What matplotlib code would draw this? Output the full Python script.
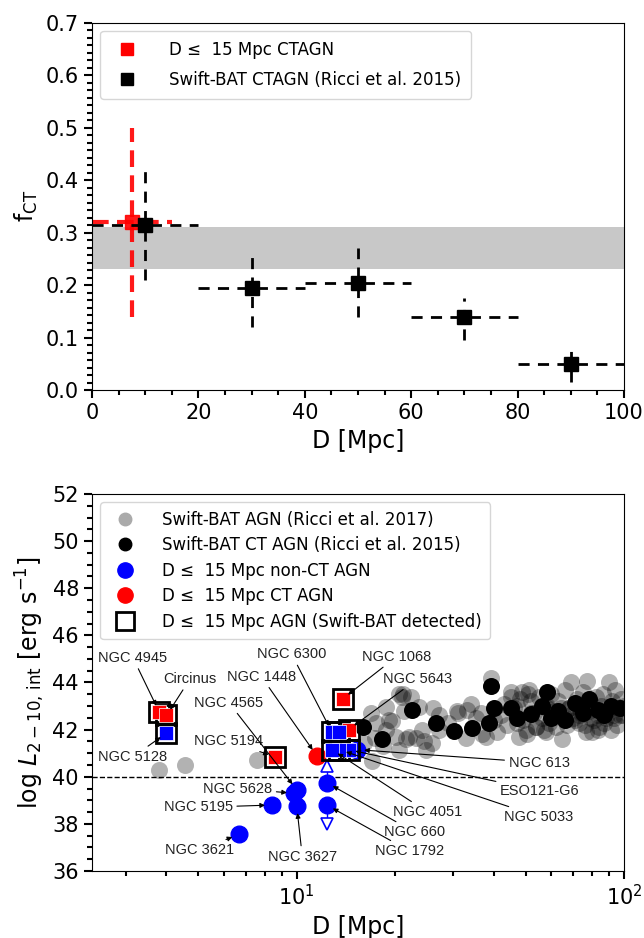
import numpy as np
import matplotlib
matplotlib.use("Agg")
import matplotlib.pyplot as plt
from matplotlib.lines import Line2D
from matplotlib.ticker import MultipleLocator, AutoMinorLocator

# ---------------- top panel data ----------------
local_d = [7.5]
local_f = [0.32]
local_xerr = [7.5]
local_ylo = [0.18]
local_yhi = [0.18]

bat_d = [10, 30, 50, 70, 90]
bat_f = [0.315, 0.195, 0.205, 0.14, 0.05]
bat_xerr = [10, 10, 10, 10, 10]
bat_ylo = [0.105, 0.075, 0.065, 0.045, 0.035]
bat_yhi = [0.105, 0.065, 0.065, 0.035, 0.035]

band_lo, band_hi = 0.23, 0.31

# ---------------- bottom panel data ----------------
# Swift-BAT AGN (Ricci et al. 2017)
r17_d = [3.8, 4.55, 7.55, 16.1, 17.3, 18.8, 21.6, 27.3, 33.0, 36.9, 41.0, 54.0, 64.5,
         76.5, 83.5, 17.0, 16.9, 19.2, 20.1, 18.8, 20.6, 21.1, 22.4, 19.6, 17.5, 18.3,
         20.6, 23.2, 24.2, 24.9, 27.3, 31.0, 33.2, 35.4, 21.3, 39.3, 20.9, 23.7, 22.1,
         24.5, 25.9, 30.8, 36.6, 38.0, 48.9, 51.3, 47.8, 50.6, 69.0, 90.0, 53.9, 57.8,
         80.0, 91.0, 73.0, 45.3, 42, 43, 44, 45, 46, 47, 48, 49, 50, 51, 52, 53, 55,
         56, 57, 58, 59, 60, 61, 62, 63, 64, 65, 66, 67, 68, 70, 71, 72, 73, 74, 75,
         76, 77, 78, 79, 81, 82, 83, 84, 85, 86, 87, 88, 89, 92, 93, 94, 95, 96, 97,
         98, 99, 100, 29.0, 26.0, 34.0, 40.0, 62, 68, 74, 79, 85, 93, 58, 52, 47]
r17_l = [40.3, 40.5, 40.7, 41.45, 41.65, 42.0, 41.6, 42.0, 41.65, 41.8, 41.9, 42.1, 41.6,
         41.9, 42.0, 40.65, 42.7, 42.4, 41.7, 42.95, 43.5, 43.5, 43.4, 42.35, 42.3, 41.3,
         41.15, 41.65, 42.0, 41.15, 42.6, 42.7, 42.85, 42.5, 42.8, 44.2, 43.4, 42.98, 41.7,
         41.5, 41.45, 42.8, 42.7, 41.7, 43.6, 43.7, 41.7, 41.8, 44.0, 44.0, 42.1, 41.9,
         41.9, 42.0, 42.3, 43.6, 42.6, 43.1, 42.2, 43.4, 42.9, 42.3, 43.3, 42.4, 42.0,
         43.5, 43.2, 42.7, 43.4, 42.5, 42.0, 43.0, 42.3, 43.5, 42.8, 42.1, 43.2, 42.9,
         42.6, 43.7, 42.2, 42.9, 42.5, 42.4, 43.3, 42.6, 42.7, 43.6, 42.2, 44.05, 42.8,
         43.1, 42.4, 43.4, 42.6, 42.1, 43.0, 43.5, 42.3, 42.5, 42.8, 43.2, 42.5, 43.7,
         42.2, 42.9, 42.6, 43.3, 42.6, 43.0, 42.3, 42.9, 43.1, 42.4, 42.7, 42.9, 43.0,
         42.5, 42.8, 42.6, 42.9, 42.7, 43.0]

# Swift-BAT CT AGN (Ricci et al. 2015)
r15_d = [15.9, 18.2, 22.5, 26.7, 30.3, 34.2, 39.3, 40.2, 38.8, 47.2, 52.0, 58.0, 56.0,
         63.0, 71.0, 75.0, 83.5, 91.5, 66.0, 87.0, 97.0, 60.0, 45.0, 78.0]
r15_l = [42.1, 41.6, 42.85, 42.3, 41.95, 42.05, 43.85, 42.9, 42.3, 42.5, 42.65, 43.6, 43.0,
         42.8, 43.15, 42.7, 42.85, 43.0, 42.4, 42.6, 42.9, 42.5, 42.9, 43.3]

# D <= 15 Mpc AGN
names = ["NGC 4945", "Circinus", "NGC 5128", "NGC 5194", "NGC 4565", "NGC 5628",
         "NGC 5195", "NGC 3621", "NGC 3627", "NGC 1448", "NGC 6300", "NGC 1068",
         "NGC 5643", "NGC 613", "ESO121-G6", "NGC 5033", "NGC 4051", "NGC 660",
         "NGC 1792"]
dist = [3.8, 4.0, 4.0, 8.6, 10.0, 9.8, 8.4, 6.65, 10.0, 11.5, 12.8, 13.8,
        14.4, 15.3, 14.4, 13.5, 12.8, 12.35, 12.35]
logl = [42.75, 42.6, 41.85, 40.85, 39.45, 39.3, 38.8, 37.55, 38.75, 40.9, 41.9, 43.3,
        42.0, 41.15, 41.15, 41.15, 41.15, 39.75, 38.8]
is_ct = [True, True, False, True, False, False, False, False, False, True, False, True,
         True, False, False, False, False, False, False]
bat_detected = [True, True, True, True, False, False, False, False, False, False, True, True,
                True, False, True, True, True, False, False]
# extra Swift-BAT detected non-CT square in the 13 Mpc cluster
extra_d = [13.5]
extra_l = [41.9]
lolim = {"NGC 660": 0.72}
uplim = {"NGC 1792": -0.8}

plt.rcParams['font.family'] = ['DejaVu Sans']
fig = plt.figure(figsize=(6.44, 9.38), dpi=100)

# ======================= top panel =======================
ax1 = fig.add_axes([0.143, 0.584, 0.826, 0.392])
ax1.axhspan(band_lo, band_hi, color='#c8c8c8', lw=0, zorder=0)
eb = ax1.errorbar(bat_d, bat_f, xerr=bat_xerr, yerr=[bat_ylo, bat_yhi], fmt='s',
                  color='k', ms=10, elinewidth=2, capsize=0, zorder=3)
eb[-1][0].set_linestyle((0, (4, 3)))
eb[-1][1].set_linestyle((0, (4, 3)))
eb2 = ax1.errorbar(local_d, local_f, xerr=local_xerr, yerr=[local_ylo, local_yhi], fmt='s',
                   color='red', ms=10, elinewidth=3, capsize=0, zorder=2, alpha=0.9)
eb2[-1][0].set_linestyle((0, (4, 2)))
eb2[-1][1].set_linestyle((0, (4, 2)))
ax1.set_xlim(0, 100)
ax1.set_ylim(0, 0.7)
ax1.xaxis.set_major_locator(MultipleLocator(20))
ax1.xaxis.set_minor_locator(MultipleLocator(5))
ax1.yaxis.set_major_locator(MultipleLocator(0.1))
ax1.yaxis.set_minor_locator(AutoMinorLocator(7))
ax1.tick_params(which='major', labelsize=15, length=6, width=1.5)
ax1.tick_params(which='minor', length=3.5, width=1.5)
ax1.set_xlabel('D [Mpc]', fontsize=17)
ax1.set_ylabel(r'f$_{\rm CT}$', fontsize=17)
h1 = [Line2D([], [], marker='s', ls='none', color='red', ms=8),
      Line2D([], [], marker='s', ls='none', color='k', ms=8)]
ax1.legend(h1, ['D ≤  15 Mpc CTAGN', 'Swift-BAT CTAGN (Ricci et al. 2015)'],
           loc='upper left', fontsize=12, handletextpad=1.5, borderpad=0.6,
           labelspacing=0.7)

# ======================= bottom panel =======================
ax2 = fig.add_axes([0.143, 0.0714, 0.826, 0.402])
ax2.set_xscale('log')
ax2.scatter(r17_d, r17_l, s=150, color='k', alpha=0.3, lw=0, zorder=1)
ax2.scatter(r15_d, r15_l, s=150, color='k', lw=0, zorder=2)
ax2.axhline(40, color='k', ls='--', lw=1, zorder=1.5)

for n, d, l, ct, det in zip(names, dist, logl, is_ct, bat_detected):
    c = 'red' if ct else 'blue'
    if det:
        ax2.plot(d, l, marker='s', ms=14, mfc='none', mec='k', mew=2, zorder=5)
        ax2.plot(d, l, marker='s', ms=10, color=c, mec='white', mew=0.5, zorder=6)
    else:
        ax2.plot(d, l, marker='o', ms=12, color=c, zorder=4)
for d, l in zip(extra_d, extra_l):
    ax2.plot(d, l, marker='s', ms=14, mfc='none', mec='k', mew=2, zorder=5)
    ax2.plot(d, l, marker='s', ms=10, color='blue', mec='white', mew=0.5, zorder=6)

for n, off in list(lolim.items()) + list(uplim.items()):
    i = names.index(n)
    ax2.plot([dist[i], dist[i]], [logl[i], logl[i] + off], color='blue', lw=1, zorder=3)
    ax2.plot(dist[i], logl[i] + off, marker='^' if off > 0 else 'v', ms=9,
             mfc='white', mec='blue', mew=1.2, zorder=3)

# annotation label positions (layout)
text_pos = {"NGC 4945": (3.16, 45.05), "Circinus": (4.72, 44.15), "NGC 5128": (3.16, 40.85),
            "NGC 5194": (6.2, 41.5), "NGC 4565": (6.2, 43.15), "NGC 5628": (6.6, 39.5),
            "NGC 5195": (5.0, 38.7), "NGC 3621": (5.06, 36.9), "NGC 3627": (10.4, 36.6),
            "NGC 1448": (7.8, 44.25), "NGC 6300": (9.65, 45.2), "NGC 1068": (20.2, 45.1),
            "NGC 5643": (23.4, 44.15), "NGC 613": (55, 40.6), "ESO121-G6": (55.3, 39.4),
            "NGC 5033": (55, 38.3), "NGC 4051": (25.1, 38.5), "NGC 660": (22.9, 37.65),
            "NGC 1792": (22.1, 36.85)}
for n, d, l in zip(names, dist, logl):
    ax2.annotate(n, xy=(d, l), xytext=text_pos[n], fontsize=10.5,
                 family=['Liberation Sans', 'DejaVu Sans'], ha='center', va='center',
                 color='#222222', zorder=7,
                 arrowprops=dict(arrowstyle='-|>', color='k', lw=0.8,
                                 mutation_scale=7, shrinkA=1, shrinkB=5))

ax2.set_xlim(2.37, 100)
ax2.set_ylim(36, 52)
ax2.yaxis.set_major_locator(MultipleLocator(2))
ax2.yaxis.set_minor_locator(MultipleLocator(0.5))
ax2.tick_params(which='major', labelsize=15, length=6, width=1.5)
ax2.tick_params(which='minor', length=3.5, width=1.5)
ax2.set_xlabel('D [Mpc]', fontsize=17)
ax2.set_ylabel(r'log $L_{2-10,\,\rm int}$ [erg s$^{-1}$]', fontsize=17)
h2 = [Line2D([], [], marker='o', ls='none', color='#aaaaaa', ms=9),
      Line2D([], [], marker='o', ls='none', color='k', ms=9),
      Line2D([], [], marker='o', ls='none', color='blue', ms=11),
      Line2D([], [], marker='o', ls='none', color='red', ms=11),
      Line2D([], [], marker='s', ls='none', mfc='none', mec='k', mew=2, ms=13)]
ax2.legend(h2, ['Swift-BAT AGN (Ricci et al. 2017)', 'Swift-BAT CT AGN (Ricci et al. 2015)',
                'D ≤  15 Mpc non-CT AGN', 'D ≤  15 Mpc CT AGN',
                'D ≤  15 Mpc AGN (Swift-BAT detected)'],
           loc='upper left', fontsize=12, handletextpad=1.2, borderpad=0.5,
           labelspacing=0.45)

fig.savefig('out.png', dpi=100)
